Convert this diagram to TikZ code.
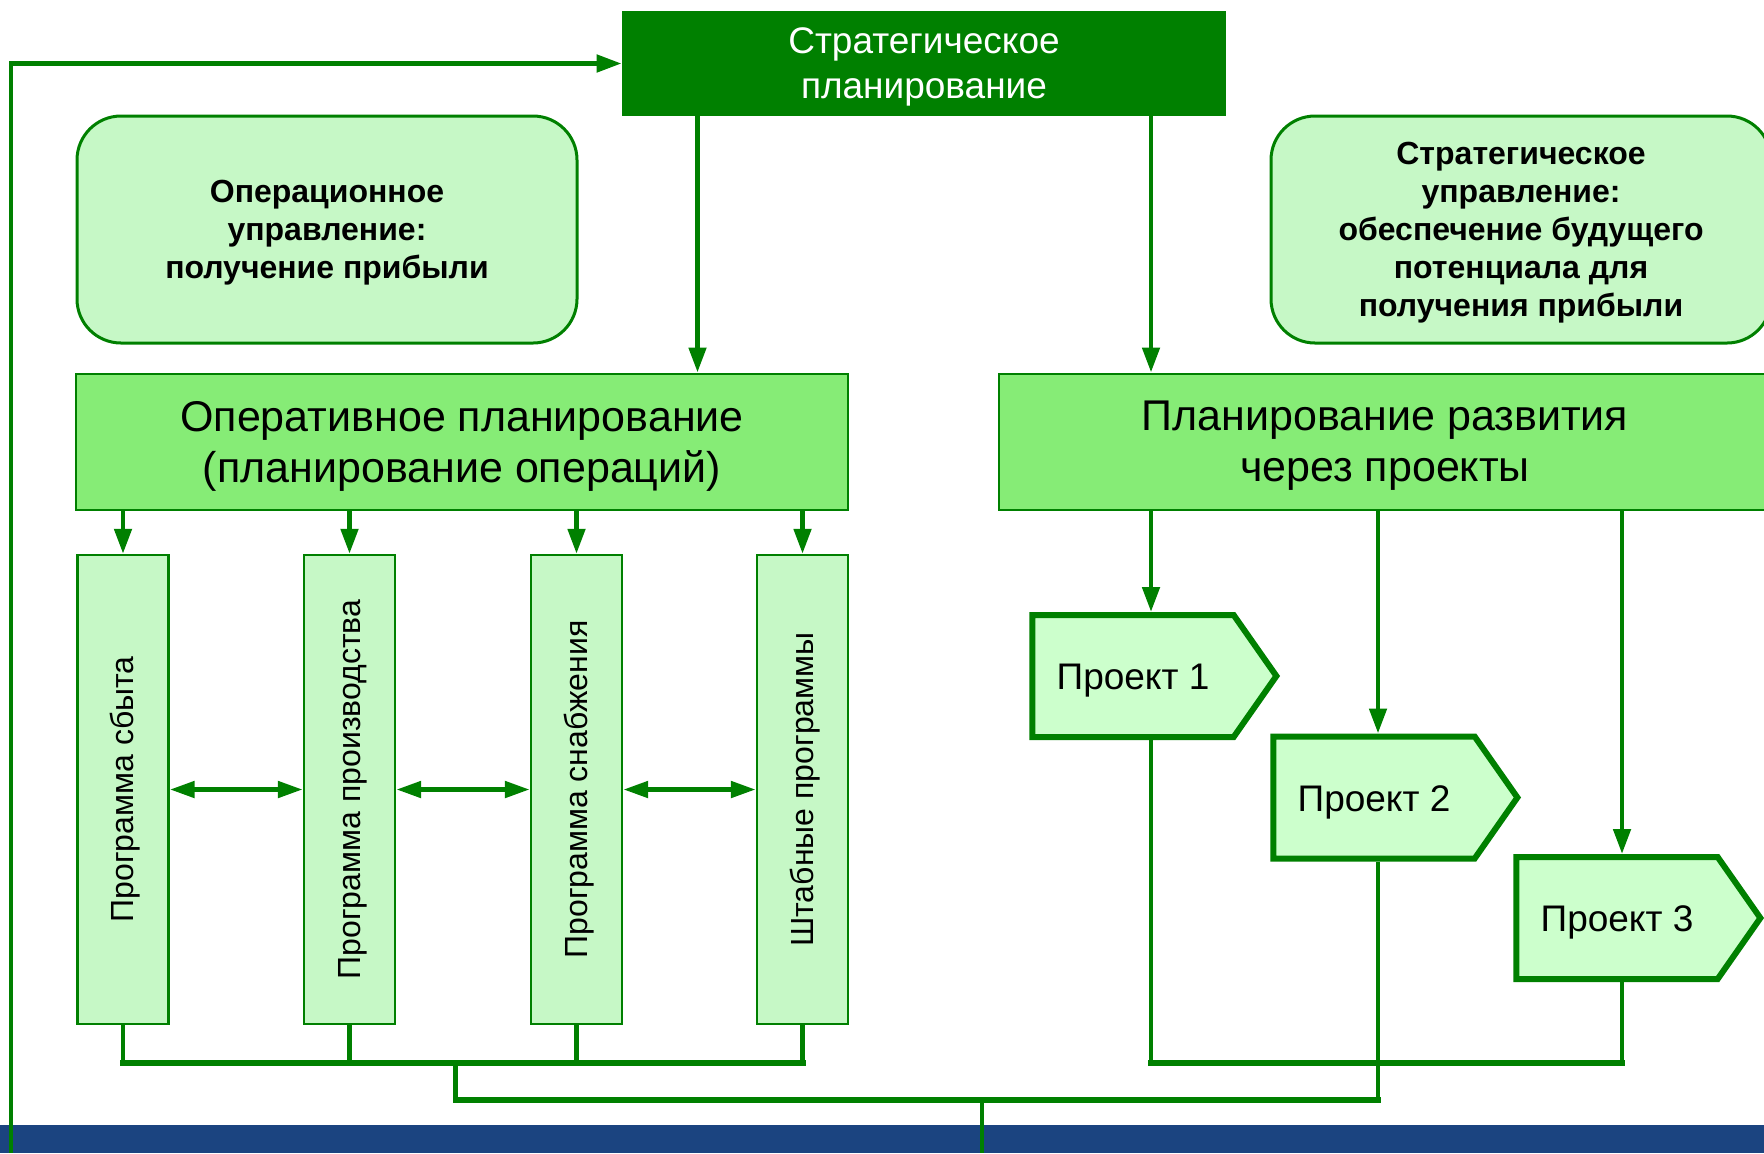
\documentclass[tikz,border=0pt]{standalone}
\usepackage{fontspec}
\setmainfont{Liberation Sans}
\usetikzlibrary{arrows.meta,shapes.symbols}
\definecolor{dkgreen}{RGB}{0,128,0}
\definecolor{midgreen}{RGB}{134,236,118}
\definecolor{ltgreen}{RGB}{198,248,198}
\definecolor{projgreen}{RGB}{204,255,204}
\definecolor{stripblue}{RGB}{27,68,128}
\begin{document}
\begin{tikzpicture}[x=0.5pt,y=-0.5pt,line join=miter,>={Triangle[length=12.5pt,width=8.5pt]}]
	\tikzset{conn/.style={draw=dkgreen,line width=2.4pt},
		bus/.style={draw=dkgreen,line width=3pt,line cap=rect},
		link/.style={draw=dkgreen,line width=2.5pt,{Triangle[length=12.5pt,width=8pt]}-{Triangle[length=12.5pt,width=8pt]}},
		strat/.style={fill=dkgreen,text=white,minimum width=302pt,minimum height=52.5pt,align=center,font=\fontsize{18.5}{22.5}\selectfont,text depth=-6.1pt},
		aim/.style={draw=dkgreen,line width=1.5pt,fill=ltgreen,rounded corners=22pt,minimum width=250pt,minimum height=113.5pt,align=center,font=\bfseries\fontsize{16}{19}\selectfont,text depth=-6.6pt},
		plan/.style={draw=dkgreen,line width=1pt,fill=midgreen,minimum width=386pt,minimum height=68pt,align=center,font=\fontsize{21.5}{25.5}\selectfont,text depth=-6.3pt},
		prog/.style={draw=dkgreen,line width=1.2pt,fill=ltgreen,rotate=90,minimum width=234.5pt,minimum height=45.5pt,inner sep=0pt,font=\fontsize{16}{18}\selectfont,text height=14pt},
		proj/.style={draw=dkgreen,line width=3pt,fill=projgreen,signal,signal to=east,signal pointer angle=110,minimum width=122pt,minimum height=61pt,inner sep=2pt,font=\fontsize{18.5}{22}\selectfont,text height=17.5pt}}
	\useasboundingbox (0,0) rectangle (1764,1153);
	\fill[stripblue] (0,1125) rectangle (1764,1153); % полоса внизу
	% верхний уровень
	\node[strat] (strat) at (924,63.5) {Стратегическое\\планирование};
	\node[aim] (opaim) at (327,229.5) {Операционное\\управление:\\получение прибыли};
	\node[aim] (straim) at (1521,229.5) {Стратегическое\\управление:\\обеспечение будущего\\потенциала для\\получения прибыли};
	\node[plan] (oper) at (462,441.5) {Оперативное планирование\\(планирование операций)};
	\node[plan] (dev) at (1385,441.5) {Планирование развития\\через проекты};
	% программы
	\foreach\i/\x/\t in {1/123/Программа сбыта,2/349.5/Программа производства,3/576.5/Программа снабжения,4/802.5/Штабные программы}{
		\node[prog] (prog\i) at (\x,789.5) {\t};}
	% проекты
	\node[proj] (proj1) at (1133,676) {Проект 1};
	\node[proj] (proj2) at (1374,797.5) {Проект 2};
	\node[proj] (proj3) at (1617,918) {Проект 3};
	\coordinate (s1) at (697.5,0);
	\coordinate (a1) at (1151,0);
	\coordinate (a2) at (1378,0);
	\coordinate (a3) at (1622,0);
	\coordinate (busL) at (455.6,1063);
	\coordinate (busB) at (982,1100);
	\coordinate (fb) at (11,1153);
	\coordinate (out) at (982,1153);
	% стрелки вниз
	\draw[conn,->] (strat.south -| s1) -- (oper.north -| s1);
	\draw[conn,->] (strat.south -| a1) -- (dev.north -| a1);
	\foreach\i in {1,...,4}{\draw[conn,->] (oper.south -| prog\i) -- (prog\i.east);}
	\foreach\i/\j in {1/2,2/3,3/4}{\draw[link] (prog\i.south) -- (prog\j.north);}
	\draw[conn,->] (dev.south -| a1) -- (proj1.north -| a1);
	\draw[conn,->] (dev.south -| a2) -- (proj2.north -| a2);
	\draw[conn,->] (dev.south -| a3) -- (proj3.north -| a3);
	% сборные линии
	\foreach\i in {1,...,4}{\draw[conn] (prog\i.west) -- (prog\i.west |- busL);}
	\draw[bus] (prog1.west |- busL) -- (prog4.west |- busL);
	\draw[conn] (proj1.south -| a1) -- (a1 |- busL);
	\draw[conn] (proj3.south -| a3) -- (a3 |- busL);
	\draw[bus] (a1 |- busL) -- (a3 |- busL);
	\draw[conn] (proj2.south -| a2) -- (a2 |- busB);
	\draw[conn] (busL) -- (busL |- busB);
	\draw[bus] (busL |- busB) -- (a2 |- busB);
	\draw[conn] (busB) -- (out);
	\draw[conn,->] (fb) |- (strat.west);
\end{tikzpicture}
\end{document}
